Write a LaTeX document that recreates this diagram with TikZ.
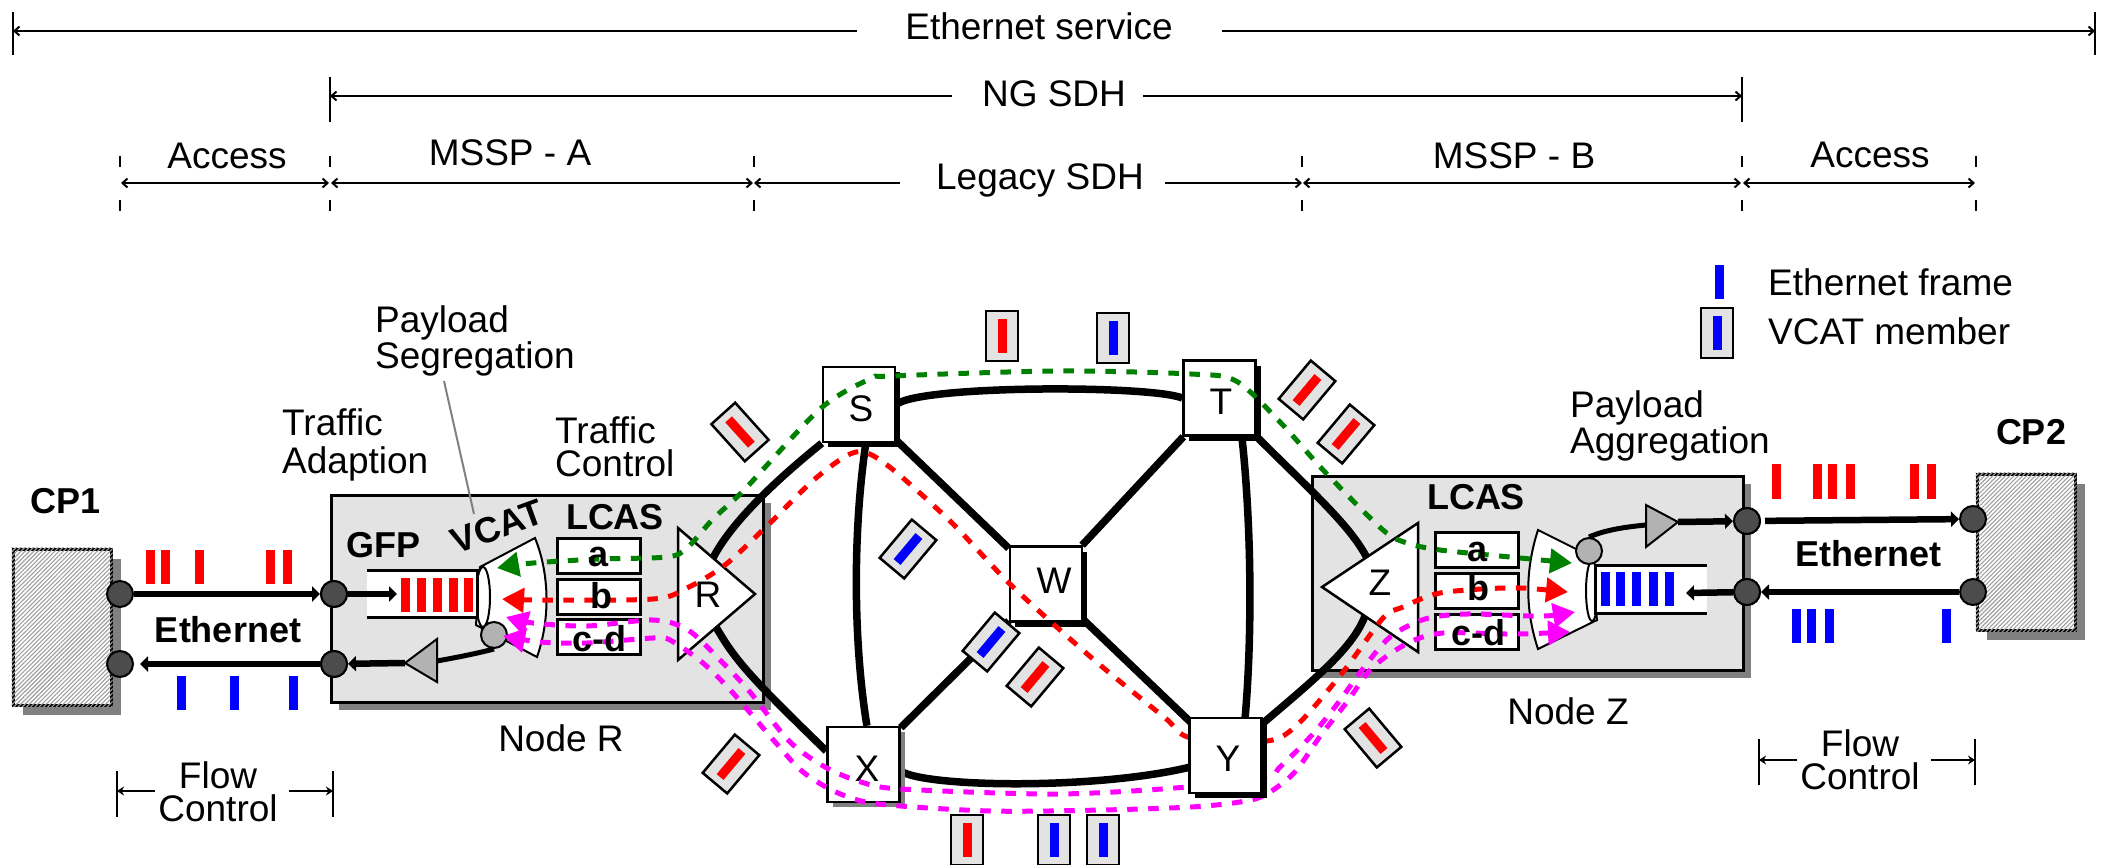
\documentclass[tikz,border=0pt]{standalone}
\usepackage{fontspec}
\setmainfont{Liberation Sans}
\usetikzlibrary{arrows.meta,shadows,patterns.meta}

\definecolor{darkgreen}{RGB}{0,128,0}
\definecolor{routepink}{RGB}{255,0,255}
\tikzset{
  every node/.style={font=\fontsize{37}{37}\selectfont, inner sep=0pt},
  boldlabel/.style={font=\fontsize{36}{36}\bfseries\selectfont},
  dimline/.style={line width=2pt, {Straight Barb[length=5pt,width=9pt]}-{Straight Barb[length=5pt,width=9pt]}},
  dimplain/.style={line width=2pt},
  tickline/.style={line width=1.5pt},
  flowtip/.style={line width=2.5pt, -{Stealth[length=7pt,width=9pt]}},
  thickarrow/.style={line width=6.5pt, -{Triangle[length=8pt,width=15pt]}},
  ringlink/.style={line width=7.5pt},
  ringnode/.style={draw, line width=2.5pt, fill=white, minimum width=72pt, minimum height=75pt,
    general shadow={fill=#1, shadow xshift=5pt, shadow yshift=-5pt}},
  sitebox/.style={draw, line width=3pt, fill=gray!22, minimum width=#1,
    general shadow={fill=gray, shadow xshift=8pt, shadow yshift=-8pt}},
  cpbox/.style={draw, line width=3pt, fill=white, minimum width=98pt,
    general shadow={fill=gray, shadow xshift=10pt, shadow yshift=-10pt}},
  cphatch/.style={pattern={Lines[angle=45,distance=3pt,line width=1.1pt]}, pattern color=black!38},
  port/.style={circle, draw, line width=2pt, fill=black!70, minimum size=26pt},
  hub/.style={circle, draw, line width=2pt, fill=black!30, minimum size=26pt},
  laneslot/.style={draw, line width=3pt, fill=white, minimum width=83pt, minimum height=35pt},
  amptri/.style={draw, line width=2pt, fill=black!30, line join=miter},
  edgetri/.style={draw, line width=2.5pt, fill=white, line join=miter},
  muxbody/.style={draw, line width=2pt, fill=white},
  memberbox/.style={draw, line width=2.5pt, fill=gray!22, minimum width=32pt, minimum height=50pt},
  memberbar/.style={minimum width=9pt, minimum height=34pt},
  route/.style={line width=5pt, dash pattern=on 10.5pt off 10.5pt,
    {Triangle[length=22pt,width=24pt]}-{Triangle[length=22pt,width=24pt]}},
}

\begin{document}
\begin{tikzpicture}[x=1pt, y=-1pt]
  \useasboundingbox (0,0) rectangle (2105,865);

  % service spans
  \node (ethService) at (1039,26) {Ethernet service};
  \coordinate (ethLeft) at (13,31);
  \coordinate (ethGapL) at (857,31);
  \coordinate (ethGapR) at (1222,31);
  \coordinate (ethRight) at (2095,31);
  \draw[dimplain, {Straight Barb[length=5pt,width=9pt]}-] (ethLeft) -- (ethGapL);
  \draw[dimplain, -{Straight Barb[length=5pt,width=9pt]}] (ethGapR) -- (ethRight);
  \draw[tickline] (13,12) -- (13,55);
  \draw[tickline] (2095,12) -- (2095,55);

  \node (ngSdh) at (1054,94) {NG SDH};
  \coordinate (ngLeft) at (330,96);
  \coordinate (ngGapL) at (952,96);
  \coordinate (ngGapR) at (1143,96);
  \coordinate (ngRight) at (1742,96);
  \draw[dimplain, {Straight Barb[length=5pt,width=9pt]}-] (ngLeft) -- (ngGapL);
  \draw[dimplain, -{Straight Barb[length=5pt,width=9pt]}] (ngGapR) -- (ngRight);
  \draw[tickline] (330,77) -- (330,122);
  \draw[tickline] (1742,77) -- (1742,122);

  % domains
  \foreach \x [count=\i] in {120,330,754,1302,1742,1976} {
    \coordinate (mark\i) at (\x,183);
    \draw[tickline] (\x,156) -- (\x,167);
    \draw[tickline] (\x,200) -- (\x,211);
  }
  \coordinate (legacyL) at (900,183);
  \coordinate (legacyR) at (1165,183);
  \draw[dimline, shorten >=1pt, shorten <=1pt] (mark1) -- (mark2);
  \draw[dimline, shorten >=1pt, shorten <=1pt] (mark2) -- (mark3);
  \draw[dimplain, {Straight Barb[length=5pt,width=9pt]}-] (mark3) -- (legacyL);
  \draw[dimplain, -{Straight Barb[length=5pt,width=9pt]}] (legacyR) -- (mark4);
  \draw[dimline, shorten >=1pt, shorten <=1pt] (mark4) -- (mark5);
  \draw[dimline, shorten >=1pt, shorten <=1pt] (mark5) -- (mark6);
  \node (accessL) at (227,156) {Access};
  \node (msspA) at (510,153) {MSSP - A};
  \node (legacySdh) at (1040,180) {Legacy SDH};
  \node (msspB) at (1514,156) {MSSP - B};
  \node (accessR) at (1870,155) {Access};

  % customer premises and node boxes
  \node[cpbox, minimum height=156pt] (cpOne) at (62,627) {};
  \node[cpbox, minimum height=156pt] (cpTwo) at (2026,552) {};
  \fill[cphatch] (cpOne.south west) rectangle (cpOne.north east);
  \fill[cphatch] (cpTwo.south west) rectangle (cpTwo.north east);
  \node[font=\fontsize{36}{36}\bfseries\selectfont] (cpOneName) at (66,501) {CP1};
  \node[font=\fontsize{36}{36}\bfseries\selectfont] (cpTwoName) at (2031,432) {CP2};
  \node[sitebox=432pt, minimum height=207pt] (nodeR) at (547,598.5) {};
  \node[sitebox=431pt, minimum height=194pt] (nodeZ) at (1527.5,573) {};
  \node (nodeRName) at (561,738) {Node R};
  \node (nodeZName) at (1568,711) {Node Z};

  % ring
  \node[ringnode=black] (S) at (859,404.5) {};
  \node[ringnode=black] (T) at (1219.5,398) {};
  \node[ringnode=black] (W) at (1046,584) {};
  \node[ringnode=gray] (X) at (863.5,764.5) {};
  \coordinate (Rup) at (713,558);
  \coordinate (Rdown) at (716,627);
  \coordinate (Zup) at (1367,558);
  \coordinate (Zdown) at (1365,616);
  \coordinate (Y) at (1225.5,755.5);
  \draw[ringlink] (S.east) .. controls (920,385) and (1150,385) .. (T.west);
  \draw[ringlink] (S.-80) .. controls (853,530) and (853,640) .. (X.85);
  \draw[ringlink] (T.-60) .. controls (1252,530) and (1252,640) .. (1245,719);
  \draw[ringlink] (X.-10) .. controls (930,790) and (1150,790) .. (Y);
  \draw[ringlink] (S) -- (W);
  \draw[ringlink] (T) -- (W);
  \draw[ringlink] (X) -- (W);
  \draw[ringlink] (Y) -- (W);
  \draw[ringlink] (Rup) .. controls (730,525) and (770,485) .. (S.south west);
  \draw[ringlink] (Rdown) .. controls (735,660) and (750,677) .. (X.160);
  \draw[ringlink] (T.south east) .. controls (1310,490) and (1350,525) .. (Zup);
  \draw[ringlink] (Y) .. controls (1300,690) and (1350,655) .. (Zdown);
  \node[ringnode=black] at (S) {};
  \node[ringnode=black] at (T) {};
  \node[ringnode=black] at (W) {};
  \node[ringnode=gray] at (X) {};
  \node (Sname) at (861,409) {S};
  \node (Tname) at (1221,402) {T};
  \node (Wname) at (1054,581) {W};
  \node (Xname) at (867,769) {X};

  % node R inside
  \draw[muxbody] (535,538) -- (480,567) -- (476,625) -- (537,657) .. controls (550,620) and (550,575) .. (535,538) -- cycle;
  \draw[muxbody] (483,597) ellipse (7 and 30);
  \fill[white] (367,570) rectangle (477,617);
  \draw[line width=3pt] (367,570) -- (477,570) -- (477,617) -- (367,617);
  \foreach \x in {401,417,433,449,464} {
    \fill[red] (\x,578) rectangle +(9,34);
  }
  \node[laneslot] (laneRa) at (599,555.5) {};
  \node[laneslot] (laneRb) at (599,596.5) {};
  \node[laneslot] (laneRc) at (599,637) {};
  \draw[edgetri] (678,528) -- (755,594) -- (678,660) -- cycle;
  \node (Rname) at (708,595) {R};
  \node[hub] (hubR) at (494,635) {};
  \draw[amptri] (405,663) -- (437,639) -- (437,682) -- cycle;
  \coordinate (ampRin) at (437,661);
  \coordinate (ampRout) at (405,663);
  \draw[line width=5pt] (hubR.south) .. controls (482,652) and (470,655) .. (ampRin);

  % node Z inside
  \draw[muxbody] (1538,530) -- (1590,556) -- (1597,620) -- (1538,649) .. controls (1525,610) and (1525,570) .. (1538,530) -- cycle;
  \draw[muxbody] (1592,591) ellipse (6 and 30);
  \fill[white] (1595,565) rectangle (1707,613);
  \draw[line width=3pt] (1707,565) -- (1595,565) -- (1595,613) -- (1707,613);
  \foreach \x in {1601,1616,1632,1649,1665} {
    \fill[blue] (\x,572) rectangle +(9,34);
  }
  \node[laneslot] (laneZa) at (1476.5,550) {};
  \node[laneslot] (laneZb) at (1476.5,590.5) {};
  \node[laneslot] (laneZc) at (1476.5,631.5) {};
  \draw[edgetri] (1418,523) -- (1322,587) -- (1418,652) -- cycle;
  \node (Zname) at (1380,583) {Z};
  \node[hub] (hubZ) at (1589,551) {};
  \draw[amptri] (1646,505) -- (1678,522) -- (1646,547) -- cycle;
  \coordinate (ampZin) at (1646,525);
  \coordinate (ampZout) at (1678,522);
  \draw[line width=5pt] (hubZ.north) .. controls (1605,530) and (1625,527) .. (ampZin);

  % ports
  \node[port] (cpOneTop) at (120,594) {};
  \node[port] (cpOneBot) at (120,664) {};
  \node[port] (rTop) at (334,594) {};
  \node[port] (rBot) at (334,664) {};
  \node[port] (zTop) at (1747,521) {};
  \node[port] (zBot) at (1747,592) {};
  \node[port] (cpTwoTop) at (1973,519) {};
  \node[port] (cpTwoBot) at (1973,592) {};

  % ethernet arrows
  \coordinate (rInner) at (397,594);
  \coordinate (zInner) at (1686,593);
  \draw[thickarrow] (cpOneTop) -- (rTop);
  \draw[thickarrow, shorten >=6pt] (rBot) -- (cpOneBot);
  \draw[thickarrow] (rTop) -- (rInner);
  \draw[thickarrow] (ampRout) -- (rBot);
  \draw[thickarrow] (ampZout) -- (zTop);
  \draw[thickarrow] (zBot) -- (zInner);
  \draw[thickarrow, shorten <=4pt] (zTop) -- (cpTwoTop);
  \draw[thickarrow] (cpTwoBot) -- (zBot);
  \node[port] at (rTop) {};
  \node[port] at (rBot) {};
  \node[port] at (zTop) {};
  \node[port] at (zBot) {};
  \node[boldlabel] (ethLeftName) at (228,630) {Ethernet};
  \node[boldlabel] (ethRightName) at (1868,554) {Ethernet};

  % ethernet frames
  \foreach \x in {146,161,195,266,283} {
    \fill[red] (\x,550) rectangle +(9,34);
  }
  \foreach \x in {177,230,289} {
    \fill[blue] (\x,676) rectangle +(9,34);
  }
  \foreach \x in {1772,1813,1828,1846,1910,1927} {
    \fill[red] (\x,464) rectangle +(9,35);
  }
  \foreach \x in {1792,1807,1825,1942} {
    \fill[blue] (\x,609) rectangle +(9,34);
  }

  % vcat members
  \foreach \x/\y/\a/\c [count=\i] in {740/432/42/red, 1002/336/0/red, 1113/338/0/blue,
      1307/390/-40/red, 1346/434/-40/red, 908/549/-40/blue, 991/642/-40/blue,
      1035/677/-40/red, 731/764/-40/red, 1373/738/40/red,
      967/840/0/red, 1054/840/0/blue, 1103/840/0/blue} {
    \node[memberbox, rotate=\a] (member\i) at (\x,\y) {};
    \node[memberbar, fill=\c, rotate=\a] (bar\i) at (member\i) {};
  }

  % routes
  \coordinate (greenStart) at (1572,563);
  \coordinate (greenEnd) at (497,568);
  \coordinate (redStart) at (1568,592);
  \coordinate (redEnd) at (502,599);
  \coordinate (pinkAstart) at (1575,612);
  \coordinate (pinkAend) at (506,617);
  \coordinate (pinkBstart) at (1570,632);
  \coordinate (pinkBend) at (503,636);
  \draw[route, darkgreen] plot[smooth, tension=0.5] coordinates {
    (greenStart) (1510,557) (1440,550) (1407,543) (1383,530) (1325,472) (1280,422) (1236,381)
    (1191,374) (1057,371) (892,376) (870,379) (820,409) (745,489) (713,519) (687,548) (667,557)
    (600,559) (533,563) (greenEnd)};
  \draw[route, red] plot[smooth, tension=0.5] coordinates {
    (redStart) (1507,588) (1440,593) (1403,607) (1383,618) (1343,672) (1298,724) (1267,741)
    (1191,738) (1164,717) (1093,659) (1012,586) (950,521) (887,465) (856,452) (816,478)
    (769,524) (725,565) (687,588) (653,599) (540,600) (redEnd)};
  \draw[route, routepink] plot[smooth, tension=0.5] coordinates {
    (pinkAstart) (1537,616) (1467,614) (1425,619) (1390,637) (1362,670) (1338,703) (1312,735)
    (1280,767) (1267,776) (1187,787) (1057,794) (901,789) (861,782) (825,767) (789,741)
    (750,692) (722,662) (688,630) (653,620) (587,626) (533,623) (pinkAend)};
  \draw[route, routepink] plot[smooth, tension=0.5] coordinates {
    (pinkBstart) (1510,634) (1443,633) (1408,643) (1372,668) (1347,702) (1321,735) (1294,773)
    (1265,795) (1240,802) (1191,807) (1102,810) (990,811) (879,804) (838,793) (803,772)
    (776,743) (733,693) (703,663) (670,640) (653,638) (587,643) (540,642) (pinkBend)};
  \node[ringnode=black] (Ybox) at (Y) {};
  \node (Yname) at (1228,759) {Y};

  % lane letters over the routes
  \node[boldlabel] (laneRaName) at (599,557) {a};
  \node[boldlabel] (laneRbName) at (601,596) {b};
  \node[boldlabel] (laneRcName) at (599,639) {c-d};
  \node[boldlabel] (laneZaName) at (1477,552) {a};
  \node[boldlabel] (laneZbName) at (1478,588) {b};
  \node[boldlabel] (laneZcName) at (1478,633) {c-d};
  \node[boldlabel] (gfpName) at (383,545) {GFP};
  \node[boldlabel, rotate=20] (vcatName) at (497,527) {VCAT};
  \node[boldlabel] (lcasR) at (615,517) {LCAS};
  \node[boldlabel] (lcasZ) at (1476,497) {LCAS};

  % function labels
  \node[font=\fontsize{37}{36}\selectfont, align=left, anchor=west] (payloadSeg) at (375,341) {Payload\\Segregation};
  \node[font=\fontsize{37}{38}\selectfont, align=left, anchor=west] (trafficAd) at (282,445) {Traffic\\Adaption};
  \node[font=\fontsize{37}{33}\selectfont, align=left, anchor=west] (trafficCtl) at (555,447) {Traffic\\Control};
  \node[font=\fontsize{37}{36}\selectfont, align=left, anchor=west] (payloadAgg) at (1570,426) {Payload\\Aggregation};
  \coordinate (segStart) at (444,381);
  \coordinate (segEnd) at (474,514);
  \draw[gray, line width=2pt] (segStart) -- (segEnd);

  % flow control
  \node[font=\fontsize{37}{33}\selectfont, align=center] (flowL) at (218,792) {Flow\\Control};
  \node[font=\fontsize{37}{33}\selectfont, align=center] (flowR) at (1860,760) {Flow\\Control};
  \coordinate (flowLa) at (155,791);
  \coordinate (flowLb) at (117,791);
  \coordinate (flowLc) at (289,791);
  \coordinate (flowLd) at (333,791);
  \coordinate (flowRa) at (1797,760);
  \coordinate (flowRb) at (1759,760);
  \coordinate (flowRc) at (1931,760);
  \coordinate (flowRd) at (1975,760);
  \draw[flowtip] (flowLa) -- (flowLb);
  \draw[flowtip] (flowLc) -- (flowLd);
  \draw[flowtip] (flowRa) -- (flowRb);
  \draw[flowtip] (flowRc) -- (flowRd);
  \draw[tickline] (117,771) -- (117,817);
  \draw[tickline] (333,771) -- (333,817);
  \draw[tickline] (1759,739) -- (1759,785);
  \draw[tickline] (1975,739) -- (1975,785);

  % legend
  \fill[blue] (1715,265) rectangle +(9,34);
  \node[memberbox] (legendBox) at (1717,333) {};
  \node[memberbar, fill=blue] (legendBar) at (legendBox) {};
  \node[anchor=west] (legendFrame) at (1768,282) {Ethernet frame};
  \node[anchor=west] (legendMember) at (1768,331) {VCAT member};
\end{tikzpicture}
\end{document}
